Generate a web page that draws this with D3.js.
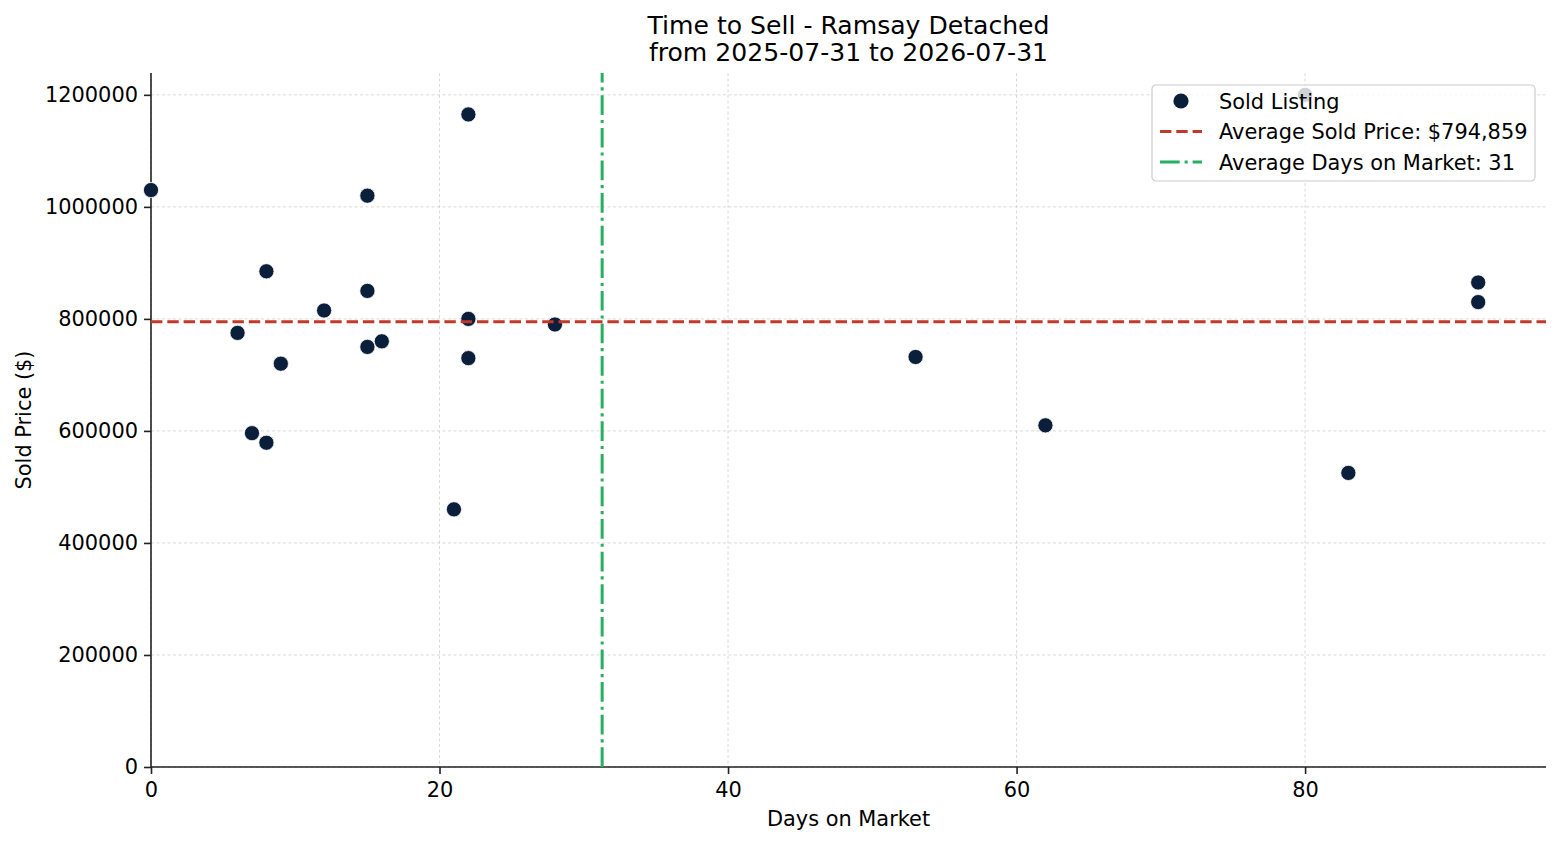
<!DOCTYPE html>
<html>
<head>
<meta charset="utf-8">
<script src="https://cdn.jsdelivr.net/npm/d3@7"></script>
<style>
  body { margin: 0; background: #fff; }
  svg text { font-family: "DejaVu Sans", sans-serif; fill: #000; }
</style>
</head>
<body>
<div id="chart"></div>
<script>
'use strict';

// sold listings: days on market and sold price
var days = [0, 6, 7, 8, 8, 9, 12, 15, 15, 15, 16, 21, 22, 22, 22, 28, 53, 62, 80, 83, 92, 92];
var prices = [1030000, 775000, 596000, 578898, 885000, 720000, 815000, 1020000, 850000, 750000, 760000,
    460000, 1165000, 800000, 730000, 790000, 732000, 610000, 1200000, 525000, 865000, 830000];

var xTicks = [0, 20, 40, 60, 80];
var yTicks = [0, 200000, 400000, 600000, 800000, 1000000, 1200000];

var titleLines = ["Time to Sell - Ramsay Detached", "from 2025-07-31 to 2026-07-31"];

var W = 1560, H = 845;
var mLeft = 151, mRight = 1546, mTop = 73, mBottom = 767;

var avgPrice = d3.mean(prices);
var avgDays = d3.mean(days);

var x = d3.scaleLinear().domain([0, 96.7]).range([mLeft, mRight]);
var y = d3.scaleLinear().domain([0, 1239000]).range([mBottom, mTop]);

var svg = d3.select("#chart").append("svg")
    .attr("width", W)
    .attr("height", H);

// grid
svg.append("g").selectAll("line").data(xTicks).join("line")
    .attr("x1", d => x(d)).attr("x2", d => x(d))
    .attr("y1", mTop).attr("y2", mBottom)
    .attr("stroke", "#cfcfcf").attr("stroke-width", 0.8)
    .attr("stroke-dasharray", "3,2.5");
svg.append("g").selectAll("line").data(yTicks).join("line")
    .attr("x1", mLeft).attr("x2", mRight)
    .attr("y1", d => y(d)).attr("y2", d => y(d))
    .attr("stroke", "#cfcfcf").attr("stroke-width", 0.8)
    .attr("stroke-dasharray", "3,2.5");

// axes
var xAxis = svg.append("g")
    .attr("transform", `translate(0,${mBottom})`)
    .call(d3.axisBottom(x).tickValues(xTicks).tickSize(7).tickPadding(8).tickFormat(d3.format("d")));
var yAxis = svg.append("g")
    .attr("transform", `translate(${mLeft},0)`)
    .call(d3.axisLeft(y).tickValues(yTicks).tickSize(7).tickPadding(6).tickFormat(d3.format("d")));

[xAxis, yAxis].forEach(function(a) {
    a.select(".domain").attr("stroke", "#222").attr("stroke-width", 1.6);
    a.selectAll(".tick line").attr("stroke", "#222").attr("stroke-width", 1.6);
    a.selectAll(".tick text").style("font-size", "20.9px").attr("fill", "#000");
});
xAxis.select(".domain").attr("d", `M${mLeft},0H${mRight}`);
yAxis.select(".domain").attr("d", `M0,${mTop}V${mBottom}`);

// points
var pts = days.map((d, i) => ({days: d, price: prices[i]}));
svg.append("g").selectAll("circle").data(pts).join("circle")
    .attr("cx", d => x(d.days))
    .attr("cy", d => y(d.price))
    .attr("r", 7.6)
    .attr("fill", "#0b1f3a")
    .attr("stroke", "#fff")
    .attr("stroke-width", 0.8);

// average lines
svg.append("line")
    .attr("x1", mLeft).attr("x2", mRight)
    .attr("y1", y(avgPrice)).attr("y2", y(avgPrice))
    .attr("stroke", "#c0392b").attr("stroke-width", 3)
    .attr("stroke-dasharray", "11.4,4.9");
svg.append("line")
    .attr("x1", x(avgDays)).attr("x2", x(avgDays))
    .attr("y1", mBottom).attr("y2", mTop)
    .attr("stroke", "#27ae60").attr("stroke-width", 3)
    .attr("stroke-dasharray", "19.7,4.9,3.1,4.9");

// title and labels
svg.append("text")
    .attr("x", (mLeft + mRight) / 2).attr("y", 34)
    .attr("text-anchor", "middle").style("font-size", "25.1px")
    .selectAll("tspan").data(titleLines).join("tspan")
    .attr("x", (mLeft + mRight) / 2)
    .attr("dy", (d, i) => i === 0 ? 0 : 27)
    .text(d => d);

svg.append("text")
    .attr("x", (mLeft + mRight) / 2).attr("y", 826)
    .attr("text-anchor", "middle").style("font-size", "20.9px")
    .text("Days on Market");

svg.append("text")
    .attr("transform", `translate(31,${(mTop + mBottom) / 2}) rotate(-90)`)
    .attr("text-anchor", "middle").style("font-size", "20.9px")
    .text("Sold Price ($)");

// legend
var legendItems = [
    {type: "dot", label: "Sold Listing"},
    {type: "price", label: "Average Sold Price: " + d3.format("$,.0f")(avgPrice)},
    {type: "days", label: "Average Days on Market: " + Math.round(avgDays)}
];
var lg = svg.append("g").attr("transform", "translate(1152,85)");
lg.append("rect")
    .attr("width", 383).attr("height", 96).attr("rx", 4)
    .attr("fill", "#fff").attr("fill-opacity", 0.8)
    .attr("stroke", "#ccc").attr("stroke-width", 1.2);
var rows = lg.selectAll("g.row").data(legendItems).join("g")
    .attr("class", "row")
    .attr("transform", (d, i) => `translate(0,${16 + i * 30.5})`);
rows.filter(d => d.type === "dot").append("circle")
    .attr("cx", 29).attr("cy", 0).attr("r", 7.6).attr("fill", "#0b1f3a");
rows.filter(d => d.type === "price").append("line")
    .attr("x1", 8).attr("x2", 50).attr("stroke", "#c0392b").attr("stroke-width", 3)
    .attr("stroke-dasharray", "11.4,4.9");
rows.filter(d => d.type === "days").append("line")
    .attr("x1", 8).attr("x2", 50).attr("stroke", "#27ae60").attr("stroke-width", 3)
    .attr("stroke-dasharray", "19.7,4.9,3.1,4.9");
rows.append("text")
    .attr("x", 67).attr("y", 7.5)
    .style("font-size", "20.9px")
    .text(d => d.label);
</script>
</body>
</html>
